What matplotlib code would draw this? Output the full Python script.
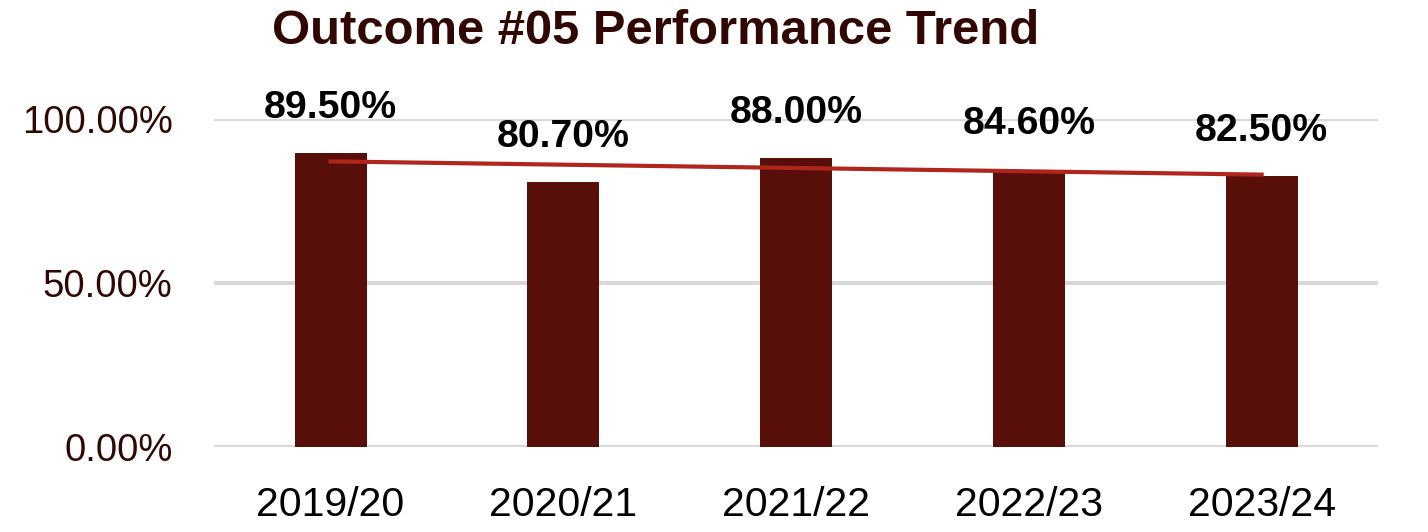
import matplotlib.pyplot as plt
import numpy as np

plt.rcParams['font.family'] = ['Liberation Sans', 'DejaVu Sans']

years = ["2019/20", "2020/21", "2021/22", "2022/23", "2023/24"]
scores = [89.5, 80.7, 88.0, 84.6, 82.5]
y_ticks = [0, 50, 100]

bar_color = "#580E09"
trend_color = "#B0261C"
maroon = "#300702"

fig = plt.figure(figsize=(14.28, 5.32), dpi=100)
ax = fig.add_axes([0.150, 0.1598, 0.815, 0.6165])

x = np.arange(len(years))
ax.bar(x, scores, width=0.31, color=bar_color, zorder=2)

# linear trendline
k, b = np.polyfit(x, scores, 1)
ax.plot(x, k * x + b, color=trend_color, linewidth=3, zorder=3)

for xi, v in zip(x, scores):
    ax.annotate(f"{v:.2f}%", (xi, v), textcoords="offset points", xytext=(0, 20),
                ha='center', va='bottom', fontsize=28.3, fontweight='bold',
                color='black', annotation_clip=False)

ax.set_xlim(-0.5, len(years) - 0.5)
ax.set_ylim(0, 100)
ax.set_yticks(y_ticks)
ax.set_yticklabels([f"{t:.2f}%" for t in y_ticks], fontsize=27.5, color=maroon)
ax.set_xticks(x)
ax.set_xticklabels(years, fontsize=29.5, color='black')
ax.tick_params(axis='both', length=0)
ax.tick_params(axis='y', pad=30)
ax.tick_params(axis='x', pad=28)
ax.grid(axis='y', color='#D9D9D9', linewidth=3, zorder=0)
ax.set_axisbelow(True)
for s in ax.spines.values():
    s.set_visible(False)

fig.text(0.459, 0.94, "Outcome #05 Performance Trend", ha='center', va='center',
         fontsize=35.3, fontweight='bold', color=maroon)

fig.savefig("out.png", dpi=100)
